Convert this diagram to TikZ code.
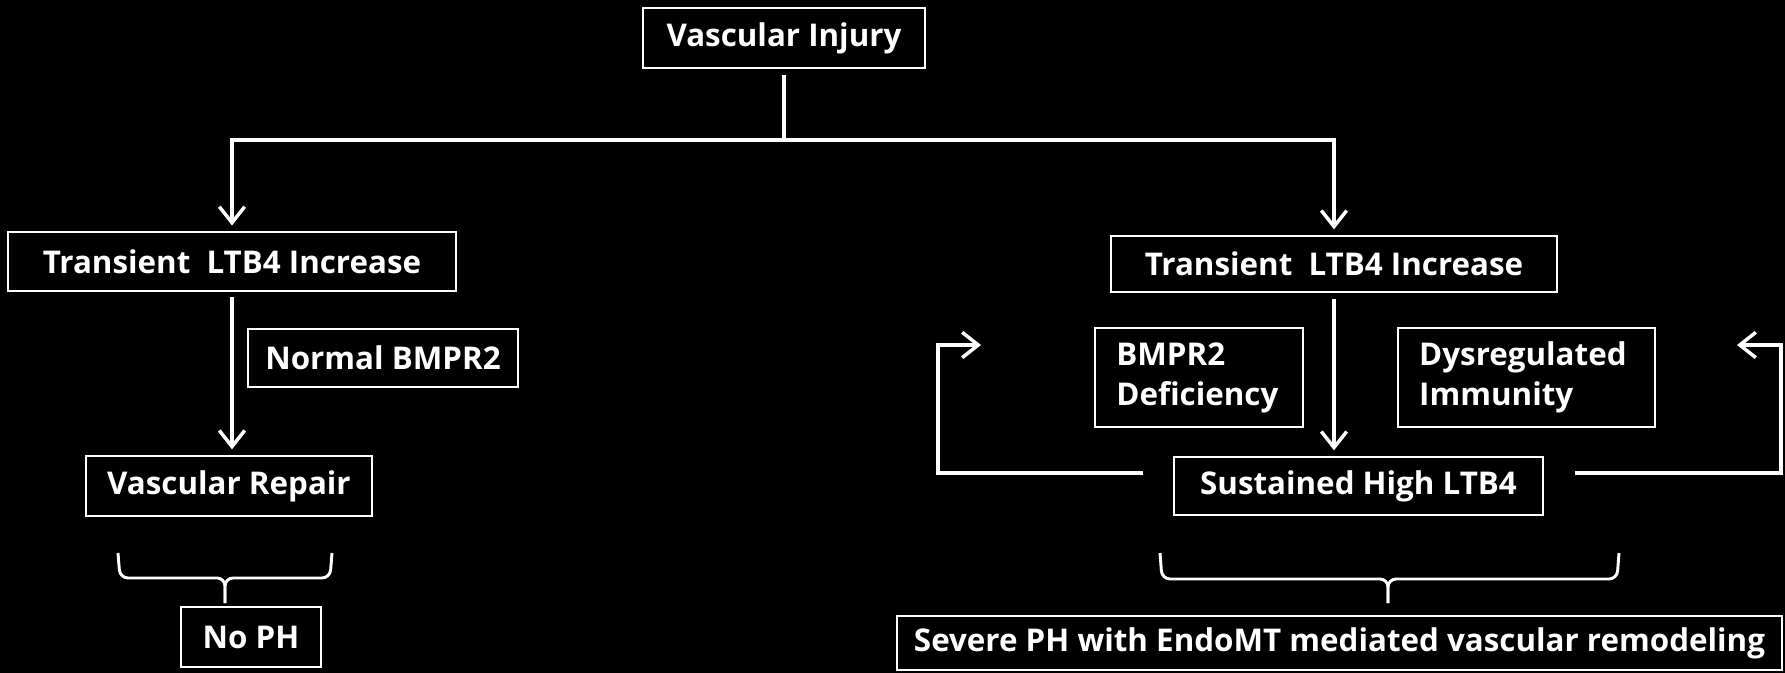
\documentclass[tikz,border=0pt]{standalone}
\usepackage{fontspec}
\setmainfont{Open Sans}
\usetikzlibrary{arrows.meta,positioning,calc}

\begin{document}
\begin{tikzpicture}[
		x=0.75pt,y=-0.75pt,
		font=\fontsize{23.5}{30}\selectfont\bfseries,
		box/.style={draw=white,line width=1.5pt,text=white,inner sep=0pt,outer sep=5pt,
			minimum height=44pt},
		twoline/.style={box,align=left,inner xsep=16pt,minimum height=74pt},
		flow/.style={-{Straight Barb[length=12pt,width=19pt]},line width=2.6pt,white},
		link/.style={line width=2.6pt,white},
		brk/.style={line width=2.2pt,white,rounded corners=6pt},
		]
		\fill[black] (0,0) rectangle (1785,673);
		\useasboundingbox (0,0) rectangle (1785,673);
		
		\node[box,minimum width=211.5pt,minimum height=45pt] (inj) at (784,38) {Vascular Injury};
		
		% left branch
		\node[box,minimum width=336pt] (ltr) at (232,261.5) {Transient\ \ LTB4 Increase};
		\node[box,minimum width=203pt,minimum height=43.5pt] (nbmpr) at (383,358) {Normal BMPR2};
		\node[box,minimum width=214.5pt,minimum height=45pt] (vrep) at (229,486) {Vascular Repair};
		\node[box,minimum width=105pt,minimum height=45pt] (noph) at (251,637) {No PH};
		
		% right branch
		\node[box,minimum width=334.5pt,minimum height=42pt] (rtr) at (1334,264) {Transient\ \ LTB4 Increase};
		\node[twoline,text width=124pt] (bdef) at (1199,377.5) {BMPR2\\Deficiency};
		\node[twoline,text width=161pt] (dys) at (1526.5,377.5) {Dysregulated\\Immunity};
		\node[box,minimum width=277pt,minimum height=43.5pt] (sus) at (1358.5,486) {Sustained High LTB4};
		\node[box,minimum width=664pt,minimum height=40.5pt] (sev) at (1339.5,643)
		{Severe PH with EndoMT mediated vascular remodeling};
		
		% fork
		\coordinate (fork) at (787,140);
		\draw[link] (inj.south) -- (inj.south |- fork);
		\draw[flow] (inj.south |- fork) -| (ltr.north);
		\draw[flow] (inj.south |- fork) -| (rtr.north);
		\draw[flow] (ltr.south) -- (ltr.south |- vrep.north);
		\draw[flow] (rtr.south) -- (rtr.south |- sus.north);
		
		% feedback loops
		\coordinate (lbend) at (938,345);
		\coordinate (ltip) at (981,345);
		\coordinate (rbend) at (1781,345);
		\coordinate (rtip) at (1737,345);
		\draw[flow] ([xshift=-18pt,yshift=9.75pt]sus.west) -| (lbend) -- (ltip);
		\draw[flow] ([xshift=18.75pt,yshift=9.75pt]sus.east) -| (rbend) -- (rtip);
		
		% braces
		\draw[brk] (118,553) -- (120,578) -- (225,578) -- (225,603);
		\draw[brk] (332,553) -- (330,578) -- (225,578) -- (225,603);
		\draw[brk] (1160,553) -- (1162,579) -- (1388,579) -- (1388,603);
		\draw[brk] (1619,553) -- (1617,579) -- (1388,579) -- (1388,603);
\end{tikzpicture}
\end{document}
